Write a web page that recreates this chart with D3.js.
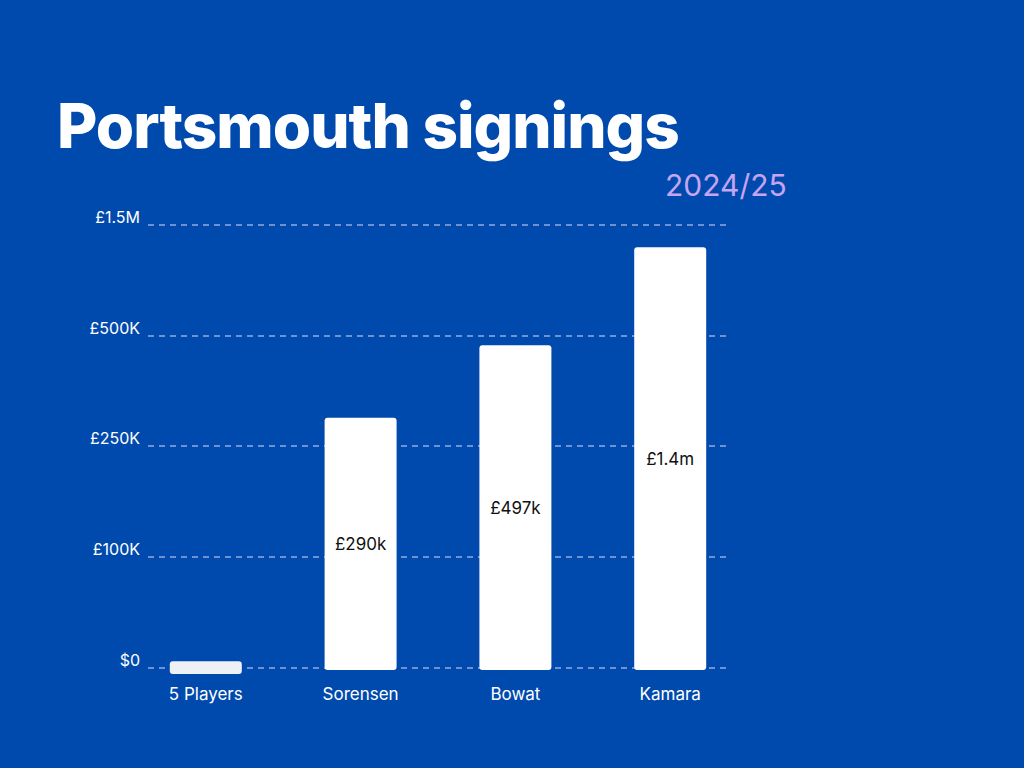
<!DOCTYPE html>
<html><head><meta charset="utf-8">
<script src="https://cdn.jsdelivr.net/npm/d3@7"></script>
<style>body{margin:0;background:#004aad}svg{display:block}</style>
</head><body>
<svg id="c" width="1024" height="768"></svg>
<script>
const categories = ["5 Players","Sorensen","Bowat","Kamara"];
const values = [6000, 314000, 479000, 1300000];
const valueLabels = ["", "£290k", "£497k", "£1.4m"];
const tickValues = [0, 100000, 250000, 500000, 1500000];
const tickLabels = ["$0","£100K","£250K","£500K","£1.5M"];

const svg = d3.select("#c");
svg.append("rect").attr("width",1024).attr("height",768).attr("fill","#004aad");
const y = d3.scaleLinear().domain(tickValues).range([668,557,446,336,225]);
const x = d3.scaleBand().domain(categories).range([128,748]).paddingInner(0.535).paddingOuter(0.27);

svg.append("text").attr("x",57).attr("y",148).attr("fill","#fff")
  .attr("font-family","Inter, sans-serif").attr("font-weight",800).attr("font-size",62)
  .attr("letter-spacing",-1).text("Portsmouth signings");
svg.append("text").attr("x",665).attr("y",196).attr("fill","#c7a4f2")
  .attr("font-family","Inter, sans-serif").attr("font-size",30).text("2024/25");

tickValues.forEach((v,i)=>{
  svg.append("line").attr("x1",148).attr("x2",730).attr("y1",y(v)).attr("y2",y(v))
    .attr("stroke","#6f93d2").attr("stroke-width",2).attr("stroke-dasharray","6,5");
  svg.append("text").attr("x",140).attr("y",y(v)-2).attr("text-anchor","end")
    .attr("fill","#fff").attr("font-family","Inter, sans-serif").attr("font-size",16).text(tickLabels[i]);
});

categories.forEach((c,i)=>{
  const top = Math.min(y(values[i]), 664);
  const bottom = i===0 ? 674 : 670;
  svg.append("rect").attr("x",x(c)).attr("width",x.bandwidth()).attr("y",top)
    .attr("height",bottom-top).attr("rx",3).attr("fill", i===0 ? "#eef0f6" : "#fff");
  if (valueLabels[i]) svg.append("text").attr("x",x(c)+x.bandwidth()/2).attr("y",(top+bottom)/2+6)
    .attr("text-anchor","middle").attr("fill","#111").attr("font-family","Inter, sans-serif")
    .attr("font-size",17).text(valueLabels[i]);
  svg.append("text").attr("x",x(c)+x.bandwidth()/2).attr("y",700).attr("text-anchor","middle")
    .attr("fill","#fff").attr("font-family","Inter, sans-serif").attr("font-size",17).text(c);
});
</script>
</body></html>
